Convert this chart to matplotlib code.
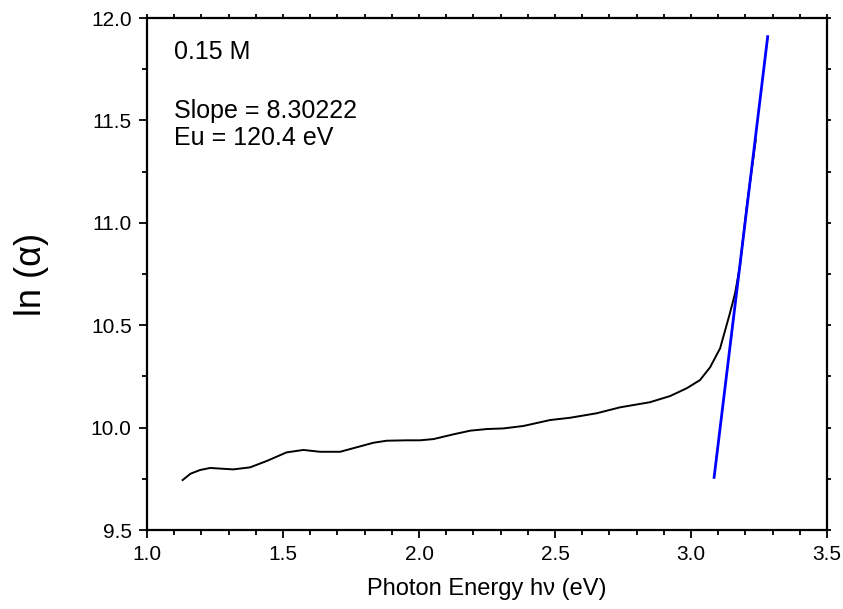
import matplotlib
matplotlib.use("Agg")
import matplotlib.pyplot as plt
from matplotlib.ticker import MultipleLocator

plt.rcParams['font.family'] = ['Liberation Sans', 'DejaVu Sans']

# absorption edge, ln(alpha) vs photon energy
energy = [1.131, 1.16, 1.195, 1.232, 1.268, 1.317, 1.379, 1.44, 1.513, 1.575,
          1.636, 1.71, 1.771, 1.832, 1.881, 1.955, 2.004, 2.053, 2.126, 2.188,
          2.249, 2.31, 2.384, 2.482, 2.555, 2.653, 2.739, 2.849, 2.923, 2.984,
          3.033, 3.07, 3.107, 3.143, 3.162, 3.18, 3.205, 3.238]
ln_alpha = [9.744, 9.775, 9.793, 9.803, 9.800, 9.796, 9.806, 9.837, 9.879, 9.891,
            9.882, 9.882, 9.904, 9.926, 9.936, 9.938, 9.938, 9.944, 9.967, 9.985,
            9.993, 9.996, 10.008, 10.037, 10.048, 10.070, 10.099, 10.124, 10.154, 10.192,
            10.232, 10.294, 10.387, 10.558, 10.656, 10.790, 11.079, 11.404]

# linear fit over the steep edge
fit_x = [3.085, 3.282]
fit_y = [9.757, 11.909]

fig = plt.figure(figsize=(8.43, 6.09), dpi=100)
ax = fig.add_axes([0.1744, 0.1297, 0.8066, 0.8407])

ax.plot(energy, ln_alpha, color='black', lw=1.4)
ax.plot(fit_x, fit_y, color='#0000ff', lw=2.0)

ax.set_xlim(1.0, 3.5)
ax.set_ylim(9.5, 12.0)
ax.xaxis.set_major_locator(MultipleLocator(0.5))
ax.xaxis.set_minor_locator(MultipleLocator(0.1))
ax.yaxis.set_major_locator(MultipleLocator(0.5))
ax.yaxis.set_minor_locator(MultipleLocator(0.25))
ax.xaxis.set_major_formatter(plt.FormatStrFormatter('%.1f'))
ax.yaxis.set_major_formatter(plt.FormatStrFormatter('%.1f'))

for s in ax.spines.values():
    s.set_linewidth(1.6)

ax.tick_params(which='major', direction='out', length=6, width=1.3,
               labelsize=15, pad=5)
ax.tick_params(which='minor', direction='out', length=3.5, width=1.3)
ax.tick_params(which='both', top=True, right=True, labeltop=False, labelright=False)
# short ticks on top and right axes
for t in ax.xaxis.get_major_ticks() + ax.xaxis.get_minor_ticks():
    t.tick2line.set_markersize(3)
for t in ax.yaxis.get_major_ticks() + ax.yaxis.get_minor_ticks():
    t.tick2line.set_markersize(3)

ax.set_xlabel('Photon Energy h\u03bd (eV)', fontsize=17, labelpad=10)
ax.set_ylabel('ln (\u03b1)', fontsize=26, labelpad=30)

ax.text(0.04, 0.92, '0.15 M', transform=ax.transAxes, fontsize=18, va='baseline')
ax.text(0.04, 0.805, 'Slope = 8.30222', transform=ax.transAxes, fontsize=18, va='baseline')
ax.text(0.04, 0.752, 'Eu = 120.4 eV', transform=ax.transAxes, fontsize=18, va='baseline')

fig.savefig('out.png', dpi=100)
